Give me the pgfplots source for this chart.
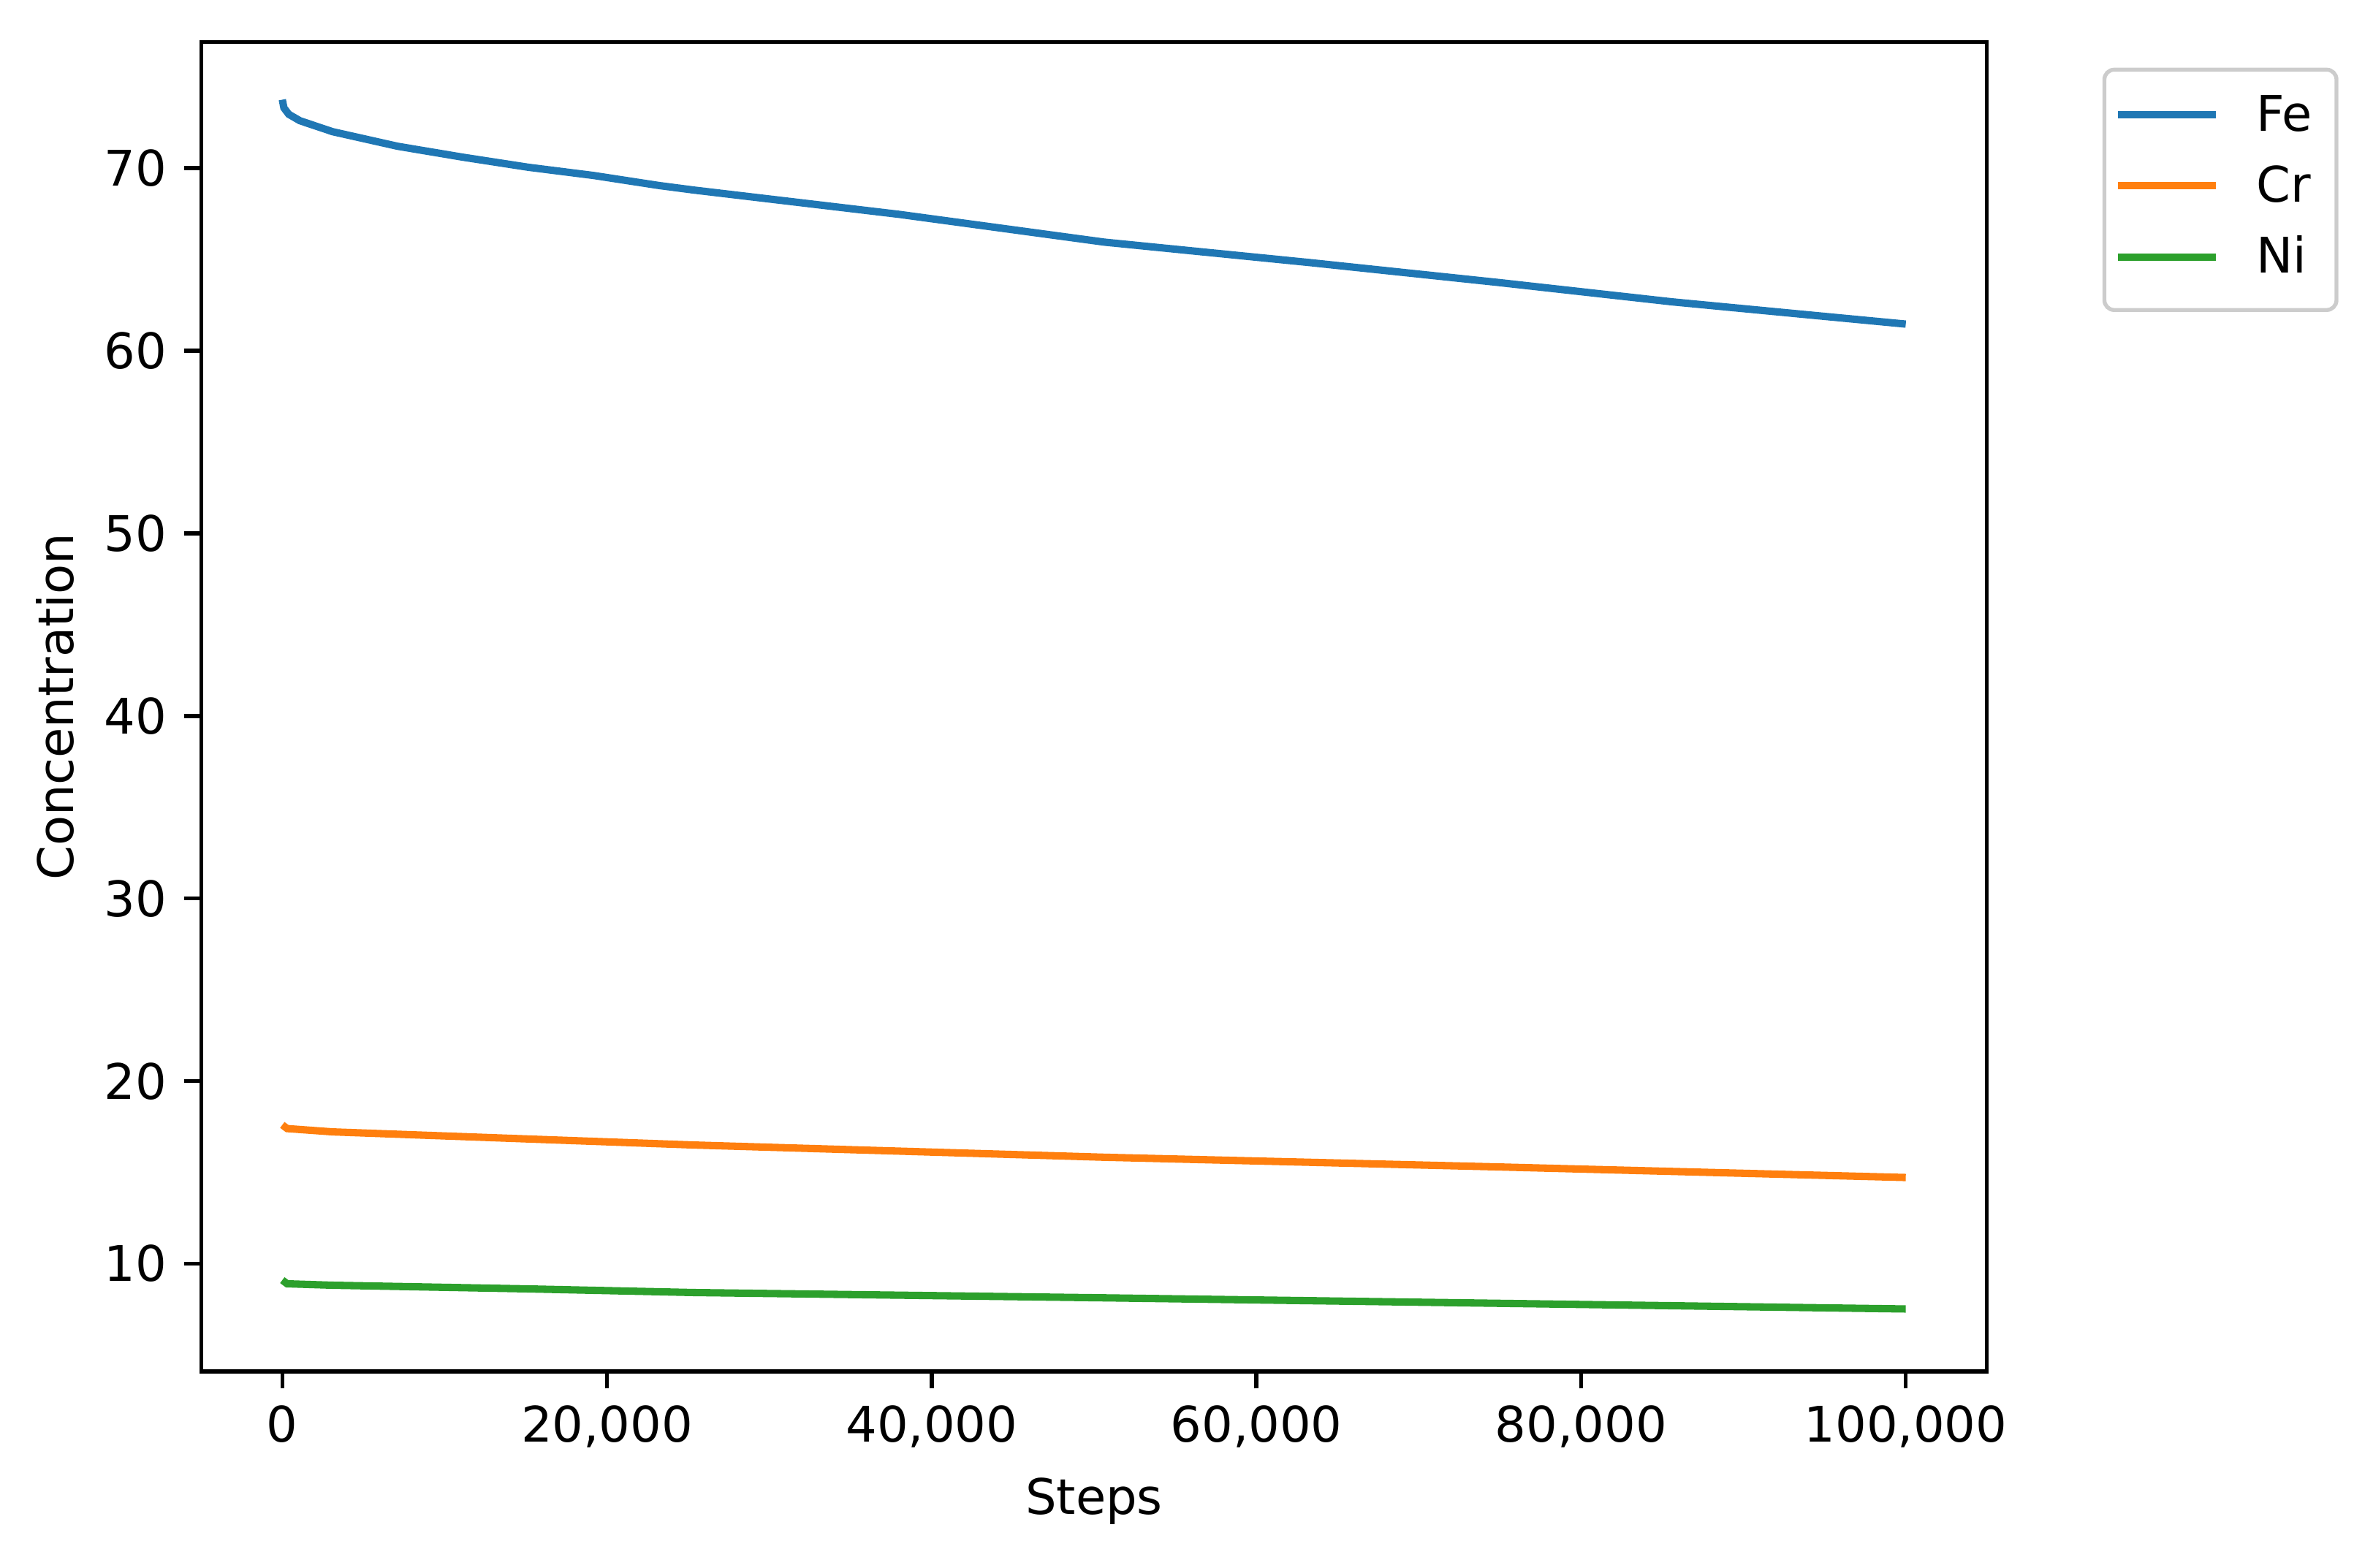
\documentclass[border=0pt]{standalone}
\usepackage{fontspec}
\setmainfont{DejaVu Sans}
\usepackage{pgfplots}
\pgfplotsset{compat=1.18}
\definecolor{tabblue}{HTML}{1F77B4}
\definecolor{taborange}{HTML}{FF7F0E}
\definecolor{tabgreen}{HTML}{2CA02C}

\begin{document}
\begin{tikzpicture}
\begin{axis}[
  scale only axis, width=364pt, height=271pt,
  xmin=-5000, xmax=105000, ymin=4.1, ymax=76.9,
  xtick={0,20000,40000,60000,80000,100000},
  ytick={10,20,30,40,50,60,70},
  scaled x ticks=false,
  /pgf/number format/assume math mode=true,
  x tick label style={/pgf/number format/.cd, fixed, 1000 sep={,}},
  tick align=outside, xtick pos=bottom, ytick pos=left,
  major tick length=3.5pt,
  tick style={black, line width=0.8pt},
  axis line style={line width=0.8pt},
  xlabel={Steps}, ylabel={Concentration},
  x label style={at={(axis description cs:0.5,-0.0978)}, anchor=center},
  y label style={at={(axis description cs:-0.0819,0.5)}, anchor=center},
  legend cell align=left,
  legend image code/.code={\draw[#1] (0pt,0.8pt) -- (20pt,0.8pt);},
  legend style={at={(1.0647,0.9808)}, anchor=north west,
    draw=black!20, line width=0.8pt, rounded corners=2pt,
    inner xsep=2pt, inner ysep=5pt, row sep=4.5pt,
    nodes={inner sep=0pt, text height=7.5pt, text depth=2.5pt},
    /tikz/every odd column/.append style={column sep=7.5pt},
    /tikz/every even column/.append style={text width=14.3pt}},
  every axis plot/.append style={line width=1.5pt},
]
\addplot[tabblue] coordinates {
  (0,73.75) (100,73.3) (400,72.95) (1080,72.6) (3090,72.0) (7100,71.2)
  (11130,70.6) (15150,70.05) (19170,69.6) (23200,69.05) (25360,68.8)
  (38000,67.47) (50630,65.95) (63280,64.83) (72660,63.95) (74900,63.74)
  (85600,62.68) (94200,61.95) (100000,61.46)
};
\addlegendentry{Fe}
\addplot[taborange] coordinates {
  (0,17.6) (300,17.4) (3090,17.22) (15150,16.83) (25360,16.5)
  (50630,15.83) (74900,15.3) (100000,14.72)
};
\addlegendentry{Cr}
\addplot[tabgreen] coordinates {
  (0,9.1) (300,8.9) (3090,8.82) (15150,8.62) (25360,8.42)
  (50630,8.13) (74900,7.83) (100000,7.52)
};
\addlegendentry{Ni}
\end{axis}
\path ([shift={(-41pt,-40pt)}]current axis.south west)
  rectangle ([shift={(78.7pt,8.6pt)}]current axis.north east);
\end{tikzpicture}
\end{document}
